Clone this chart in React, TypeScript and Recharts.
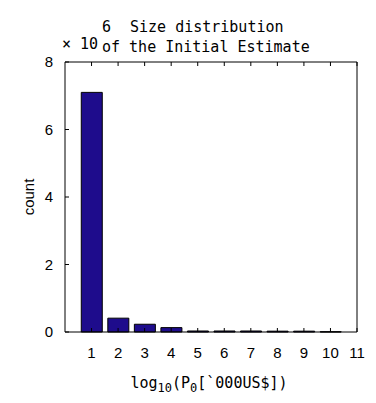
import React from 'react';
import { BarChart, Bar, XAxis, YAxis } from 'recharts';

// bin centres: log10 of initial estimate ('000 US$)
const bins = [1, 2, 3, 4, 5, 6, 7, 8, 9, 10, 11];
// counts, in units of 10^6
const counts = [7.1, 0.41, 0.23, 0.13, 0.03, 0.03, 0.03, 0.025, 0.025, 0.008, 0];
const xTicks = [1, 2, 3, 4, 5, 6, 7, 8, 9, 10, 11];
const yTicks = [0, 2, 4, 6, 8];

const data = bins.map((b, i) => ({ bin: b, count: counts[i] }));

const W = 376;
const H = 403;
const tickFont = '"Liberation Sans", Arial, sans-serif';
const monoFont = '"DejaVu Sans Mono", monospace';
const TL = 4;

const BottomTick = (props: any) => {
  const { x, y, payload } = props;
  return (
    <g>
      <line x1={x} y1={y} x2={x} y2={y - TL} stroke="#000" />
      <text x={x} y={y + 26} textAnchor="middle" fontSize={15} fontFamily={tickFont} fill="#000">
        {payload.value}
      </text>
    </g>
  );
};

const TopTick = (props: any) => {
  const { x, y } = props;
  return <line x1={x} y1={y} x2={x} y2={y + TL} stroke="#000" />;
};

const LeftTick = (props: any) => {
  const { x, y, payload } = props;
  return (
    <g>
      <line x1={x} y1={y} x2={x + TL} y2={y} stroke="#000" />
      <text x={x - 12} y={y + 5} textAnchor="end" fontSize={15} fontFamily={tickFont} fill="#000">
        {payload.value}
      </text>
    </g>
  );
};

const RightTick = (props: any) => {
  const { x, y } = props;
  return <line x1={x} y1={y} x2={x - TL} y2={y} stroke="#000" />;
};

export default function App() {
  return (
    <div style={{ position: 'absolute', left: 0, top: 0, width: W, height: H, background: '#fff' }}>
      <BarChart width={W} height={H} data={data} margin={{ top: 61, right: 18, left: 0, bottom: 0 }}>
        <XAxis
          xAxisId="b"
          dataKey="bin"
          type="number"
          domain={[0, 11]}
          ticks={xTicks}
          height={71}
          tickSize={0}
          tickMargin={0}
          tickLine={false}
          axisLine={{ stroke: '#000' }}
          tick={<BottomTick />}
          interval={0}
          allowDataOverflow
        />
        <XAxis
          xAxisId="t"
          orientation="top"
          dataKey="bin"
          type="number"
          domain={[0, 11]}
          ticks={xTicks}
          height={1}
          tickSize={0}
          tickMargin={0}
          tickLine={false}
          axisLine={{ stroke: '#000' }}
          tick={<TopTick />}
          interval={0}
        />
        <YAxis
          yAxisId="l"
          domain={[0, 8]}
          ticks={yTicks}
          width={65}
          tickSize={0}
          tickMargin={0}
          tickLine={false}
          axisLine={{ stroke: '#000' }}
          tick={<LeftTick />}
          interval={0}
        />
        <YAxis
          yAxisId="r"
          orientation="right"
          domain={[0, 8]}
          ticks={yTicks}
          width={1}
          tickSize={0}
          tickMargin={0}
          tickLine={false}
          axisLine={{ stroke: '#000' }}
          tick={<RightTick />}
          interval={0}
        />
        <Bar
          xAxisId="b"
          yAxisId="l"
          dataKey="count"
          fill="#1e0c8c"
          stroke="#000"
          strokeWidth={1}
          barSize={21}
          isAnimationActive={false}
        />
      </BarChart>
      <div
        style={{
          position: 'absolute',
          left: 0,
          top: 0,
          width: W,
          height: H,
          pointerEvents: 'none',
          fontFamily: monoFont,
          color: '#000',
        }}
      >
        <div style={{ position: 'absolute', left: 102, top: 18, fontSize: 15, lineHeight: '18px' }}>6</div>
        <div style={{ position: 'absolute', left: 130, top: 18, fontSize: 15, lineHeight: '18px', whiteSpace: 'pre' }}>
          Size distribution
        </div>
        <div style={{ position: 'absolute', left: 62, top: 35, fontSize: 15, lineHeight: '18px', whiteSpace: 'pre' }}>
          × 10
        </div>
        <div style={{ position: 'absolute', left: 102, top: 38, fontSize: 15, lineHeight: '18px', whiteSpace: 'pre' }}>
          of the Initial Estimate
        </div>
        <div
          style={{
            position: 'absolute',
            left: 28,
            top: 197,
            fontSize: 15,
            fontFamily: tickFont,
            transform: 'translate(-50%, -50%) rotate(-90deg)',
            whiteSpace: 'pre',
          }}
        >
          count
        </div>
        <div
          style={{
            position: 'absolute',
            left: 209,
            top: 374,
            fontSize: 15,
            transform: 'translateX(-50%)',
            whiteSpace: 'pre',
            lineHeight: '18px',
          }}
        >
          log<sub style={{ fontSize: 12, verticalAlign: '-4px' }}>10</sub>(P
          <sub style={{ fontSize: 12, verticalAlign: '-4px' }}>0</sub>[`000US$])
        </div>
      </div>
    </div>
  );
}
